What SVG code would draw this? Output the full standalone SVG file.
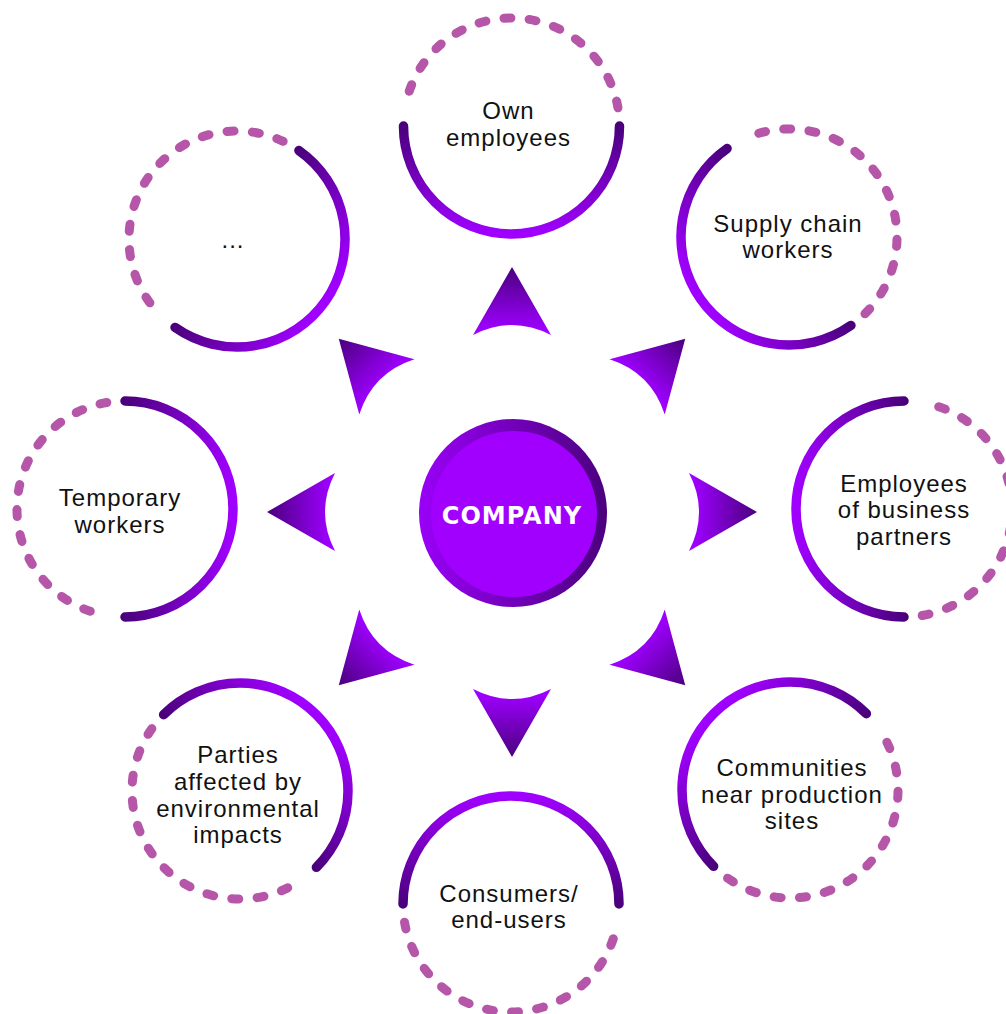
<svg xmlns="http://www.w3.org/2000/svg" width="1006" height="1014" viewBox="0 0 1006 1014">
  <defs>
    <linearGradient id="arcGrad" gradientUnits="userSpaceOnUse" x1="0" y1="0" x2="0" y2="108">
      <stop offset="0" stop-color="#4A007C"/>
      <stop offset="1" stop-color="#A000FF"/>
    </linearGradient>
    <linearGradient id="arrowGrad" gradientUnits="userSpaceOnUse" x1="0" y1="-245" x2="0" y2="-182">
      <stop offset="0" stop-color="#4A007E"/>
      <stop offset="1" stop-color="#9E00FF"/>
    </linearGradient>
    <linearGradient id="ringGrad" x1="0" y1="0" x2="1" y2="0">
      <stop offset="0" stop-color="#9A00F8"/>
      <stop offset="1" stop-color="#4B007D"/>
    </linearGradient>
    <path id="solidArc" d="M -108 0 A 108 108 0 0 0 108 0"/>
    <path id="dashArc" d="M 106.46 -18.2 A 108 108 0 0 0 -106.46 -18.2"/>
    <path id="arrow" d="M 0 -245 L 39 -177 Q 0 -197 -39 -177 Z"/>
  </defs>
  <style>
    .solid { fill: none; stroke: url(#arcGrad); stroke-width: 9.5; stroke-linecap: round; }
    .dash { fill: none; stroke: #B556A9; stroke-width: 9; stroke-linecap: round; stroke-dasharray: 7 18.3; }
    .lbl { font-family: "Liberation Sans", Arial, sans-serif; font-size: 24px; letter-spacing: 1px; fill: #111111; text-anchor: middle; }
    .arr { fill: url(#arrowGrad); }
    .co { font-family: "DejaVu Sans", "Liberation Sans", sans-serif; font-size: 24px; font-weight: bold; letter-spacing: 1px; fill: #FFFFFF; text-anchor: middle; }
  </style>

  <g id="connectors" transform="translate(512 512)">
    <use href="#arrow" class="arr" transform="rotate(0)"/>
    <use href="#arrow" class="arr" transform="rotate(45)"/>
    <use href="#arrow" class="arr" transform="rotate(90)"/>
    <use href="#arrow" class="arr" transform="rotate(135)"/>
    <use href="#arrow" class="arr" transform="rotate(180)"/>
    <use href="#arrow" class="arr" transform="rotate(225)"/>
    <use href="#arrow" class="arr" transform="rotate(270)"/>
    <use href="#arrow" class="arr" transform="rotate(315)"/>
  </g>

  <g id="node-company">
    <circle cx="513" cy="513" r="94" fill="url(#ringGrad)"/>
    <circle cx="514" cy="514" r="83" fill="#A100FF"/>
    <text class="co" x="512" y="524">COMPANY</text>
  </g>

  <g id="node-own-employees" transform="translate(511.5 126)">
    <g transform="rotate(0)">
      <use href="#solidArc" class="solid"/>
      <use href="#dashArc" class="dash"/>
    </g>
    <text class="lbl" x="-3" y="-7">Own</text>
    <text class="lbl" x="-3" y="20">employees</text>
  </g>

  <g id="node-supply-chain" transform="translate(789 237)">
    <g transform="rotate(55)">
      <use href="#solidArc" class="solid"/>
      <use href="#dashArc" class="dash"/>
    </g>
    <text class="lbl" x="-1" y="-5">Supply chain</text>
    <text class="lbl" x="-1" y="21">workers</text>
  </g>

  <g id="node-business-partners" transform="translate(904 509)">
    <g transform="rotate(90)">
      <use href="#solidArc" class="solid"/>
      <use href="#dashArc" class="dash"/>
    </g>
    <text class="lbl" x="0" y="-17">Employees</text>
    <text class="lbl" x="0" y="9">of business</text>
    <text class="lbl" x="0" y="36">partners</text>
  </g>

  <g id="node-communities" transform="translate(790 790)">
    <g transform="rotate(135)">
      <use href="#solidArc" class="solid"/>
      <use href="#dashArc" class="dash"/>
    </g>
    <text class="lbl" x="2" y="-14">Communities</text>
    <text class="lbl" x="2" y="13">near production</text>
    <text class="lbl" x="2" y="39">sites</text>
  </g>

  <g id="node-consumers" transform="translate(511 904)">
    <g transform="rotate(180)">
      <use href="#solidArc" class="solid"/>
      <use href="#dashArc" class="dash"/>
    </g>
    <text class="lbl" x="-2" y="-2">Consumers/</text>
    <text class="lbl" x="-2" y="24">end-users</text>
  </g>

  <g id="node-environmental" transform="translate(240 791)">
    <g transform="rotate(-135)">
      <use href="#solidArc" class="solid"/>
      <use href="#dashArc" class="dash"/>
    </g>
    <text class="lbl" x="-2" y="-28">Parties</text>
    <text class="lbl" x="-2" y="-1">affected by</text>
    <text class="lbl" x="-2" y="26">environmental</text>
    <text class="lbl" x="-2" y="52">impacts</text>
  </g>

  <g id="node-temporary" transform="translate(125 509)">
    <g transform="rotate(-90)">
      <use href="#solidArc" class="solid"/>
      <use href="#dashArc" class="dash"/>
    </g>
    <text class="lbl" x="-5" y="-3">Temporary</text>
    <text class="lbl" x="-5" y="24">workers</text>
  </g>

  <g id="node-other" transform="translate(237 239)">
    <g transform="rotate(-55)">
      <use href="#solidArc" class="solid"/>
      <use href="#dashArc" class="dash"/>
    </g>
    <text class="lbl" x="-4" y="9">...</text>
  </g>
</svg>
